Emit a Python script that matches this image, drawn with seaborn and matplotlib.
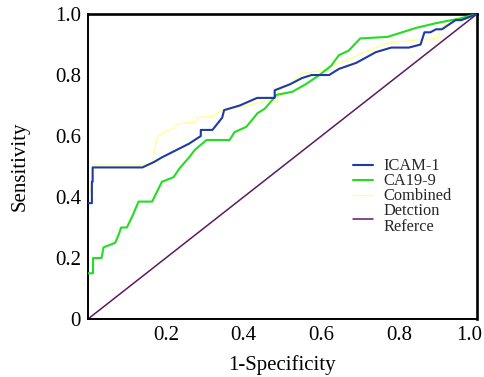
# ROC curves for ICAM-1, CA19-9 and the combined detection
import matplotlib
matplotlib.use('Agg')
import matplotlib.pyplot as plt
import matplotlib.transforms as mtrans
import seaborn as sns
import pandas as pd

# ICAM-1 curve
icam_fpr = [0, 0.01, 0.01, 0.012, 0.012, 0.14, 0.17, 0.19, 0.26, 0.29, 0.29, 0.32, 0.345, 0.35,
            0.39, 0.435, 0.48, 0.48, 0.52, 0.55, 0.575, 0.62, 0.645, 0.69, 0.74, 0.78, 0.825,
            0.855, 0.865, 0.88, 0.895, 0.91, 0.945, 0.96, 1.0]
icam_tpr = [0.38, 0.38, 0.45, 0.45, 0.497, 0.497, 0.515, 0.53, 0.575, 0.60, 0.62, 0.62, 0.66, 0.685,
            0.70, 0.725, 0.725, 0.75, 0.77, 0.79, 0.80, 0.80, 0.82, 0.84, 0.875, 0.89, 0.89,
            0.90, 0.94, 0.94, 0.95, 0.95, 0.98, 0.98, 1.0]

# CA19-9 curve
ca_fpr = [0, 0.013, 0.013, 0.035, 0.04, 0.07, 0.08, 0.085, 0.10, 0.115, 0.13, 0.165, 0.19, 0.22,
          0.236, 0.26, 0.275, 0.305, 0.364, 0.377, 0.407, 0.436, 0.455, 0.485, 0.525, 0.56,
          0.595, 0.625, 0.645, 0.67, 0.70, 0.77, 0.845, 0.895, 0.955, 1.0]
ca_tpr = [0.15, 0.15, 0.20, 0.20, 0.235, 0.25, 0.28, 0.30, 0.30, 0.34, 0.385, 0.385, 0.45, 0.465,
          0.495, 0.53, 0.555, 0.587, 0.587, 0.613, 0.63, 0.675, 0.69, 0.735, 0.745, 0.77,
          0.80, 0.83, 0.865, 0.88, 0.92, 0.925, 0.955, 0.97, 0.985, 1.0]

# combined detection curve
comb_fpr = [0, 0.012, 0.012, 0.165, 0.175, 0.18, 0.20, 0.22, 0.23, 0.275, 0.28, 0.32, 0.345, 0.41,
            0.475, 0.487, 0.49, 0.52, 0.55, 0.60, 0.645, 0.67, 0.70, 0.77, 0.845, 0.90, 0.905,
            0.935, 0.97, 1.0]
comb_tpr = [0.40, 0.445, 0.505, 0.505, 0.58, 0.60, 0.615, 0.625, 0.64, 0.645, 0.66, 0.665, 0.685, 0.70,
            0.72, 0.71, 0.75, 0.77, 0.805, 0.815, 0.84, 0.85, 0.87, 0.905, 0.915, 0.92, 0.955,
            0.975, 0.99, 1.0]

# reference diagonal
ref_fpr = [0, 1]
ref_tpr = [0, 1]

x_ticks = [0.2, 0.4, 0.6, 0.8, 1.0]
x_labels = ['0.2', '0.4', '0.6', '0.8', '1.0']
y_ticks = [0, 0.2, 0.4, 0.6, 0.8, 1.0]
y_labels = ['0', '0.2', '0.4', '0.6', '0.8', '1.0']

sns.set_theme(style='white')
plt.rcParams['font.family'] = ['Liberation Serif', 'DejaVu Serif']

fig = plt.figure(figsize=(4.85, 3.77), dpi=100)
ax = fig.add_axes([0.1814, 0.1538, 0.802, 0.809])

series = [
    ('ICAM-1', icam_fpr, icam_tpr, '#1d3aa6', 1.5, 4),
    ('CA19-9', ca_fpr, ca_tpr, '#22dd22', 1.5, 3),
    ('Combined', comb_fpr, comb_tpr, '#ffff8c', 0.9, 2.5),
    ('Detction\nReferce', ref_fpr, ref_tpr, '#5a1a5e', 1.1, 2),
]
for name, fx, fy, col, lw, z in series:
    d = pd.DataFrame({'fpr': fx, 'tpr': fy})
    sns.lineplot(data=d, x='fpr', y='tpr', sort=False, estimator=None, color=col,
                 linewidth=lw, label=name, zorder=z, ax=ax)

ax.set_xlim(0, 1)
ax.set_ylim(0, 1)
ax.set_xticks(x_ticks)
ax.set_xticklabels(x_labels)
ax.set_yticks(y_ticks)
ax.set_yticklabels(y_labels)
ax.tick_params(direction='in', length=3, width=1.3, colors='black', labelsize=15, pad=5)
ax.set_xlabel('1-Specificity', fontsize=15, labelpad=7, color='black')
ax.set_ylabel('Sensitivity', fontsize=15, labelpad=18, color='black')

# last x label sits a little left of its tick, as in the original
last = ax.get_xticklabels()[-1]
last.set_transform(last.get_transform() + mtrans.ScaledTranslation(-8 / 100, 0, fig.dpi_scale_trans))

for side in ['left', 'bottom']:
    ax.spines[side].set_linewidth(1.4)
    ax.spines[side].set_color('black')
for side in ['top', 'right']:
    ax.spines[side].set_linewidth(1.9)
    ax.spines[side].set_color('black')

leg = ax.legend(loc='upper left', bbox_to_anchor=(0.681, 0.527), frameon=False, fontsize=11.8,
                borderaxespad=0, borderpad=0, labelspacing=-0.06, handlelength=1.25,
                handletextpad=0.6)
leg.get_texts()[3].set_linespacing(0.95)

fig.savefig('out.png', dpi=100)
